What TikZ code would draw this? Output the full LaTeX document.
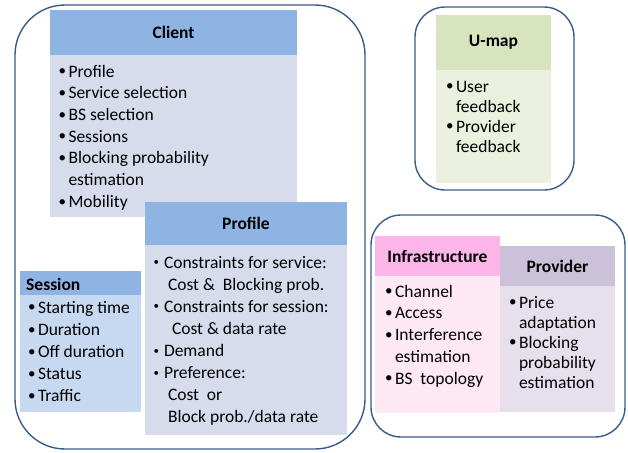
\documentclass[tikz,border=0pt]{standalone}
\usepackage{fontspec}
\setmainfont{Carlito}

\definecolor{edge}{HTML}{385D8A}
\definecolor{hdrblue}{HTML}{8EB4E3}
\definecolor{bodygray}{HTML}{D6DCEC}
\definecolor{sessbody}{HTML}{C6D9F1}
\definecolor{umaphead}{HTML}{D7E4BD}
\definecolor{umapbody}{HTML}{EBF1DE}
\definecolor{infrahead}{HTML}{FBB5E6}
\definecolor{infrabody}{HTML}{FDE8F4}
\definecolor{provhead}{HTML}{CCC1DA}
\definecolor{provbody}{HTML}{E5E0EC}

% bullet list helpers
\newcommand\bl{\makebox[10pt][l]{\raisebox{1.2pt}{\fontsize{15}{15}\selectfont•}}}
\newcommand\sbl{\makebox[10.5pt][l]{\raisebox{2.4pt}{\fontsize{11}{11}\selectfont•}}}
\newcommand\ind{\hspace*{10pt}}
\newcommand\blist[3]{\parbox[t]{#1}{\fontsize{17.5}{#2}\selectfont\raggedright #3}}

\tikzset{
  cell/.style 2 args={anchor=north west, inner sep=0pt, outer sep=0pt,
                      minimum width=#1pt, minimum height=#2pt},
  frame/.style={draw=edge, line width=1.4pt},
  title/.style={font=\fontsize{17.5}{20}\selectfont\bfseries},
  list/.style={anchor=base west, inner sep=0pt, outer sep=0pt}
}

\begin{document}
\begin{tikzpicture}[x=1pt,y=-1pt]
\useasboundingbox (0,0) rectangle (628,452);

% outer groups
\node[cell={350}{444}, frame, rounded corners=50pt] (clientarea) at (15,5) {};
\node[cell={159}{183}, frame, rounded corners=30pt] (umaparea) at (415,7) {};
\node[cell={254}{222}, frame, rounded corners=30pt] (netarea) at (371,215) {};

% Client
\node[cell={247}{45}, fill=hdrblue, title] (clienthead) at (50,10) {Client};
\node[cell={247}{162}, fill=bodygray] (clientbody) at (50,55) {};
\node[list] (clientlist) at (58.5,77) {\blist{230pt}{21.7pt}{%
  \bl Profile\\
  \bl Service selection\\
  \bl BS selection\\
  \bl Sessions\\
  \bl Blocking probability\\
  \ind estimation\\
  \bl Mobility}};

% Session
\node[cell={121}{24}, fill=hdrblue] (sesshead) at (20,271) {};
\node[anchor=west, inner sep=0pt, title] (sesstitle) at (26,284) {Session};
\node[cell={121}{117}, fill=sessbody] (sessbody) at (20,295) {};
\node[list] (sesslist) at (28,313) {\blist{112pt}{22.2pt}{%
  \bl Starting time\\
  \bl Duration\\
  \bl Off duration\\
  \bl Status\\
  \bl Traffic}};

% Profile
\node[cell={202}{43}, fill=hdrblue, title] (profhead) at (145,202) {Profile};
\node[cell={202}{190}, fill=bodygray] (profbody) at (145,245) {};
\node[list] (proflist) at (153.5,268) {\blist{195pt}{22.1pt}{%
  \sbl Constraints for service:\\
  \hspace*{14.5pt}Cost \&\ \ Blocking prob.\\
  \sbl Constraints for session:\\
  \hspace*{18.5pt}Cost \& data rate\\
  \sbl Demand\\
  \sbl Preference:\\
  \hspace*{14.5pt}Cost\ \ or\\
  \hspace*{14.5pt}Block prob./data rate}};

% U-map
\node[cell={115}{55}, fill=umaphead, title] (umaphead) at (436,15) {U-map};
\node[cell={115}{113}, fill=umapbody] (umapbody) at (436,70) {};
\node[list] (umaplist) at (445,92) {\blist{105pt}{20pt}{%
  \makebox[1pt][l]{}\bl User\\
  \hspace*{11pt}feedback\\
  \makebox[1pt][l]{}\bl Provider\\
  \hspace*{11pt}feedback}};

% Infrastructure
\node[cell={125}{40}, fill=infrahead, title] (infrahead) at (375,236) {Infrastructure};
\node[cell={125}{137}, fill=infrabody] (infrabody) at (375,276) {};
\node[list] (infralist) at (385,297) {\blist{115pt}{21.75pt}{%
  \bl Channel\\
  \bl Access\\
  \bl Interference\\
  \ind estimation\\
  \bl BS\ \ topology}};

% Provider
\node[cell={115}{40}, fill=provhead, title] (provhead) at (500,246) {Provider};
\node[cell={115}{126}, fill=provbody] (provbody) at (500,286) {};
\node[list] (provlist) at (509,308) {\blist{105pt}{20pt}{%
  \bl Price\\
  \ind adaptation\\
  \bl Blocking\\
  \ind probability\\
  \ind estimation}};
\end{tikzpicture}
\end{document}
